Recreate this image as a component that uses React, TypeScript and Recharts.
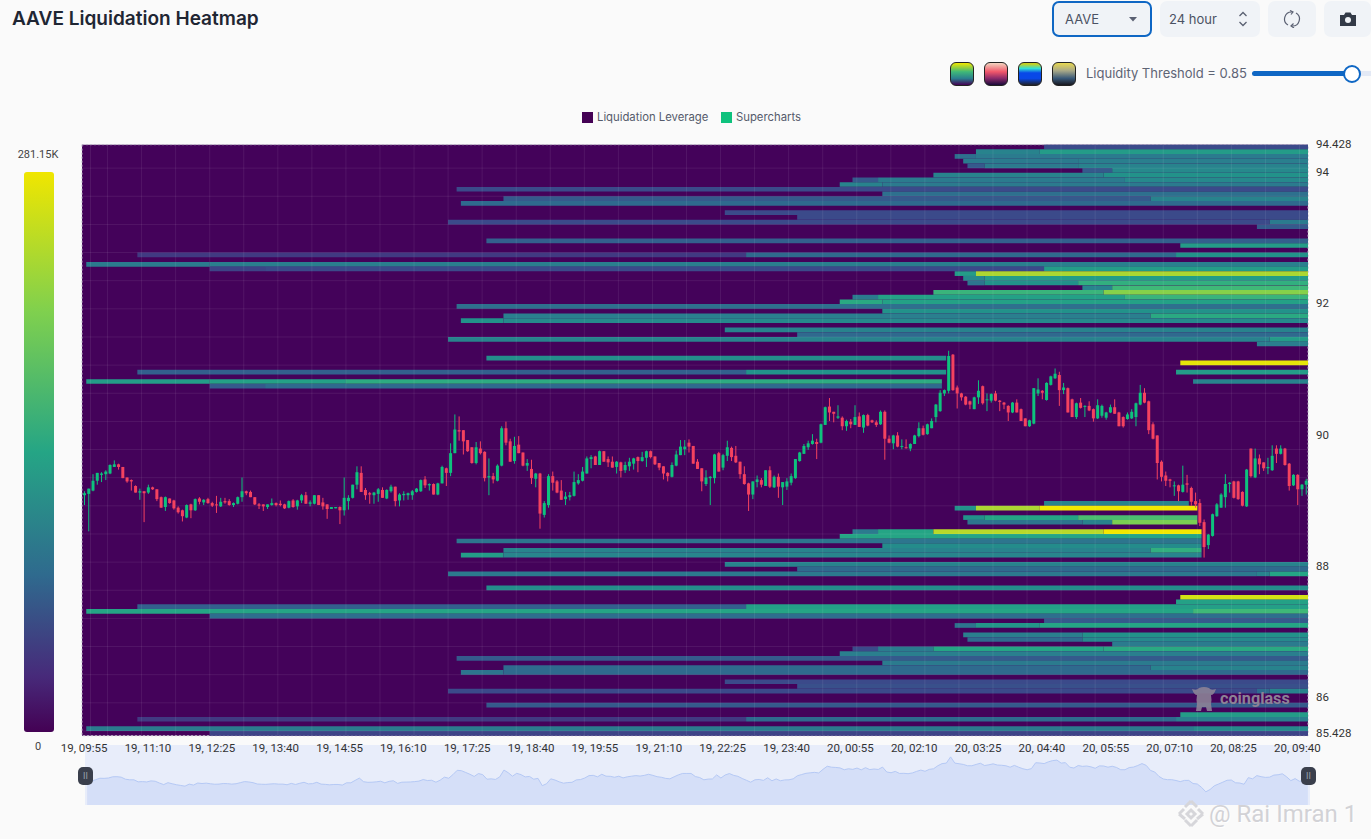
import { ComposedChart, AreaChart, Area, Bar, XAxis, YAxis, CartesianGrid, ReferenceArea } from 'recharts';

const tickLabels = [
  '19, 09:55', '19, 11:10', '19, 12:25', '19, 13:40', '19, 14:55', '19, 16:10', '19, 17:25', '19, 18:40', '19, 19:55', '19, 21:10',
  '19, 22:25', '19, 23:40', '20, 00:55', '20, 02:10', '20, 03:25', '20, 04:40', '20, 05:55', '20, 07:10', '20, 08:25', '20, 09:40',
];
const priceTicks = [94.428, 94, 92, 90, 88, 86, 85.428];

// open, high, low, close - 5 minute candles
const ohlc = [
  [89.09,89.15,88.94,89.12],[89.11,89.19,88.54,89.19],[89.16,89.41,89.15,89.31],[89.31,89.43,89.25,89.43],[89.40,89.44,89.29,89.42],[89.41,89.47,89.32,89.45],
  [89.42,89.56,89.41,89.55],[89.52,89.62,89.52,89.56],[89.56,89.57,89.48,89.52],[89.52,89.52,89.35,89.35],[89.36,89.36,89.28,89.30],[89.32,89.33,89.16,89.30],
  [89.23,89.24,89.13,89.13],[89.13,89.19,89.02,89.15],[89.15,89.15,88.68,89.12],[89.13,89.25,89.11,89.21],[89.21,89.22,89.17,89.18],[89.18,89.18,89.00,89.03],
  [89.06,89.07,88.90,88.90],[88.91,89.07,88.85,89.06],[89.04,89.04,88.96,88.97],[89.01,89.02,88.87,88.89],[88.90,88.92,88.81,88.83],[88.86,88.87,88.69,88.77],
  [88.75,88.95,88.74,88.94],[88.95,88.96,88.74,88.86],[88.86,89.04,88.85,89.03],[89.04,89.06,88.95,88.99],[88.98,89.03,88.94,89.02],[89.03,89.05,88.96,88.97],
  [88.97,88.99,88.91,88.93],[88.95,89.08,88.82,88.94],[88.92,89.05,88.91,88.99],[89.00,89.05,88.96,88.98],[89.00,89.03,88.93,88.94],[88.94,88.98,88.91,88.97],
  [88.96,89.07,88.95,89.06],[89.06,89.36,88.99,89.15],[89.15,89.16,89.09,89.12],[89.14,89.16,89.06,89.06],[89.06,89.06,88.94,88.95],[88.95,88.97,88.88,88.93],
  [88.95,88.95,88.85,88.92],[88.91,88.95,88.88,88.95],[88.94,89.04,88.93,88.97],[88.97,88.98,88.92,88.94],[88.96,89.01,88.92,88.94],[88.95,88.96,88.88,88.89],
  [88.90,89.01,88.89,89.00],[89.01,89.03,88.90,88.91],[88.92,89.02,88.87,89.01],[89.01,89.11,88.97,89.09],[89.09,89.14,88.96,88.96],[88.96,89.01,88.92,88.98],
  [88.96,89.09,88.95,89.09],[89.09,89.09,88.94,88.94],[88.98,89.05,88.87,88.92],[88.95,88.95,88.73,88.88],[88.88,88.91,88.88,88.91],[88.89,88.91,88.89,88.91],
  [88.91,88.92,88.65,88.86],[88.86,89.36,88.78,89.05],[89.00,89.09,88.87,89.05],[89.05,89.25,89.04,89.25],[89.25,89.53,89.18,89.44],[89.43,89.53,89.14,89.14],
  [89.17,89.20,89.02,89.09],[89.12,89.14,88.96,89.10],[89.09,89.14,88.96,89.13],[89.11,89.20,88.99,89.18],[89.17,89.21,89.05,89.05],[89.04,89.18,89.03,89.17],
  [89.15,89.25,89.13,89.22],[89.22,89.22,88.92,89.00],[89.01,89.12,88.92,89.10],[89.09,89.15,89.01,89.11],[89.09,89.13,89.02,89.12],[89.09,89.17,89.02,89.15],
  [89.14,89.20,89.13,89.19],[89.15,89.33,89.14,89.32],[89.33,89.38,89.20,89.24],[89.24,89.27,89.16,89.26],[89.26,89.27,89.10,89.10],[89.10,89.28,89.09,89.27],
  [89.27,89.54,89.27,89.52],[89.50,89.51,89.23,89.43],[89.43,89.88,89.38,89.73],[89.73,90.32,89.73,90.09],[90.08,90.29,89.92,90.06],[90.08,90.08,89.71,89.91],
  [89.93,89.93,89.75,89.76],[89.82,89.82,89.57,89.58],[89.58,89.90,89.56,89.82],[89.80,89.91,89.71,89.73],[89.75,89.76,89.30,89.35],[89.36,89.65,89.09,89.38],
  [89.38,89.43,89.27,89.33],[89.31,89.56,89.30,89.54],[89.54,90.14,89.53,90.11],[90.11,90.21,89.85,89.89],[89.91,89.95,89.60,89.60],[89.61,89.98,89.57,89.84],
  [89.86,89.99,89.73,89.73],[89.74,89.74,89.53,89.54],[89.54,89.64,89.46,89.58],[89.49,89.63,89.26,89.35],[89.34,89.43,89.21,89.42],[89.42,89.43,88.58,88.81],
  [88.79,89.00,88.75,88.97],[88.94,89.41,88.90,89.38],[89.38,89.45,89.16,89.28],[89.30,89.32,89.12,89.13],[89.16,89.32,89.02,89.02],[89.03,89.14,88.94,89.07],
  [89.06,89.14,89.01,89.09],[89.08,89.45,89.07,89.29],[89.27,89.41,89.25,89.32],[89.31,89.52,89.30,89.45],[89.42,89.68,89.42,89.65],[89.64,89.70,89.50,89.67],
  [89.68,89.69,89.55,89.55],[89.55,89.77,89.55,89.76],[89.76,89.76,89.60,89.60],[89.64,89.68,89.52,89.59],[89.60,89.68,89.51,89.51],[89.52,89.61,89.42,89.60],
  [89.59,89.60,89.36,89.46],[89.47,89.60,89.43,89.55],[89.53,89.66,89.46,89.60],[89.57,89.66,89.48,89.65],[89.67,89.68,89.44,89.61],[89.61,89.75,89.60,89.67],
  [89.66,89.77,89.52,89.76],[89.76,89.77,89.65,89.67],[89.68,89.68,89.55,89.56],[89.58,89.58,89.47,89.51],[89.53,89.53,89.33,89.42],[89.43,89.44,89.30,89.38],
  [89.37,89.59,89.36,89.55],[89.54,89.77,89.53,89.71],[89.70,89.93,89.70,89.83],[89.79,89.93,89.70,89.83],[89.89,89.94,89.74,89.83],[89.84,89.84,89.57,89.57],
  [89.60,89.64,89.49,89.49],[89.50,89.50,89.15,89.30],[89.26,89.47,89.23,89.36],[89.35,89.38,88.94,89.37],[89.35,89.72,89.27,89.71],[89.73,89.75,89.45,89.45],
  [89.51,89.72,89.47,89.70],[89.69,89.92,89.61,89.82],[89.81,89.83,89.61,89.67],[89.69,89.84,89.58,89.59],[89.60,89.60,89.34,89.41],[89.41,89.53,89.25,89.26],
  [89.27,89.28,88.85,89.10],[89.10,89.30,89.03,89.30],[89.29,89.39,89.21,89.33],[89.32,89.35,89.21,89.25],[89.23,89.47,89.23,89.47],[89.47,89.53,89.20,89.22],
  [89.21,89.39,89.20,89.37],[89.37,89.42,89.05,89.22],[89.21,89.29,88.94,89.29],[89.22,89.35,89.17,89.30],[89.28,89.42,89.24,89.38],[89.35,89.64,89.34,89.64],
  [89.61,89.75,89.60,89.74],[89.72,89.87,89.72,89.84],[89.82,89.92,89.78,89.88],[89.87,90.02,89.86,89.92],[89.90,89.95,89.64,89.87],[89.89,90.18,89.88,90.17],
  [90.16,90.44,90.16,90.43],[90.44,90.57,90.22,90.35],[90.36,90.36,90.20,90.33],[90.27,90.46,90.25,90.29],[90.27,90.29,90.08,90.14],[90.14,90.24,90.07,90.22],
  [90.21,90.25,90.11,90.17],[90.16,90.46,90.16,90.28],[90.29,90.35,90.13,90.13],[90.12,90.32,90.04,90.31],[90.31,90.33,90.14,90.15],[90.23,90.24,90.19,90.20],
  [90.20,90.23,90.13,90.16],[90.17,90.38,90.16,90.36],[90.36,90.38,89.63,89.95],[89.95,90.00,89.88,89.89],[89.88,90.01,89.79,90.00],[90.00,90.05,89.82,89.83],
  [89.83,89.94,89.79,89.84],[89.82,89.94,89.80,89.81],[89.80,89.88,89.76,89.87],[89.87,90.01,89.87,90.00],[89.99,90.20,89.97,90.11],[90.11,90.15,90.00,90.01],
  [90.02,90.18,90.01,90.17],[90.11,90.26,90.11,90.22],[90.28,90.48,90.20,90.47],[90.37,90.69,90.36,90.65],[90.64,90.70,90.60,90.69],[90.68,91.29,90.64,91.21],
  [91.23,91.24,90.68,90.69],[90.73,90.76,90.41,90.64],[90.64,90.65,90.53,90.58],[90.59,90.60,90.46,90.47],[90.52,90.53,90.40,90.47],[90.40,90.59,90.40,90.58],
  [90.58,90.84,90.48,90.68],[90.75,90.76,90.47,90.49],[90.54,90.64,90.37,90.55],[90.53,90.64,90.50,90.63],[90.64,90.68,90.52,90.53],[90.53,90.54,90.37,90.51],
  [90.50,90.51,90.40,90.47],[90.45,90.46,90.22,90.35],[90.35,90.51,90.34,90.50],[90.50,90.55,90.35,90.35],[90.40,90.41,90.22,90.22],[90.26,90.26,90.14,90.14],
  [90.14,90.24,90.13,90.23],[90.18,90.72,90.17,90.72],[90.64,90.87,90.60,90.70],[90.68,90.69,90.55,90.65],[90.54,90.81,90.53,90.80],[90.77,90.91,90.76,90.90],
  [90.87,91.02,90.86,90.94],[90.92,90.97,90.45,90.69],[90.69,90.80,90.63,90.73],[90.72,90.73,90.35,90.35],[90.55,90.56,90.28,90.28],[90.28,90.50,90.25,90.49],
  [90.50,90.57,90.41,90.42],[90.44,90.46,90.28,90.45],[90.45,90.52,90.37,90.38],[90.40,90.41,90.21,90.26],[90.26,90.55,90.25,90.46],[90.30,90.47,90.27,90.45],
  [90.27,90.36,90.24,90.35],[90.35,90.47,90.34,90.43],[90.43,90.55,90.33,90.33],[90.35,90.36,90.14,90.14],[90.28,90.29,90.12,90.14],[90.25,90.35,90.24,90.32],
  [90.26,90.40,90.25,90.36],[90.28,90.50,90.14,90.49],[90.47,90.77,90.46,90.65],[90.65,90.72,90.49,90.50],[90.52,90.53,90.02,90.08],[90.17,90.20,89.94,89.95],
  [90.00,90.00,89.33,89.58],[89.60,89.62,89.30,89.37],[89.39,89.45,89.23,89.31],[89.33,89.34,89.21,89.31],[89.23,89.30,89.08,89.24],[89.24,89.25,89.00,89.15],
  [89.14,89.54,89.13,89.25],[89.27,89.40,89.13,89.25],[89.20,89.22,88.93,88.99],[89.00,89.13,88.90,88.95],[88.97,89.03,88.62,88.67],[88.68,88.72,88.14,88.30],
  [88.33,88.50,88.27,88.49],[88.47,88.81,88.46,88.80],[88.77,88.97,88.76,88.95],[88.90,89.12,88.90,89.10],[89.06,89.41,88.90,89.26],[89.26,89.29,89.13,89.28],
  [89.30,89.31,89.04,89.05],[89.30,89.31,89.02,89.03],[89.14,89.15,88.92,88.93],[88.92,89.49,88.91,89.48],[89.80,89.80,89.36,89.38],[89.36,89.80,89.35,89.65],
  [89.65,89.71,89.41,89.56],[89.59,89.59,89.46,89.50],[89.50,89.66,89.41,89.52],[89.47,89.85,89.46,89.69],[89.80,89.85,89.58,89.72],[89.72,89.85,89.71,89.80],
  [89.80,89.81,89.54,89.55],[89.57,89.58,89.16,89.23],[89.24,89.41,89.23,89.40],[89.40,89.41,88.94,89.18],[89.18,89.26,89.08,89.25],[89.25,89.34,89.10,89.31],
];

// price at top of row, last column, then [first column, intensity 0-1] runs
const heatRows: any[] = [
  [94.428,288,[226,.2]],
  [94.357,288,[210,.42],[225,.55]],
  [94.285,288,[205,.33],[210,.38]],
  [94.214,288,[207,.38],[234,.4]],
  [94.142,288,[208,.25],[212,.38],[234,.42]],
  [94.071,288,[235,.25],[242,.45]],
  [94.0,288,[200,.42],[240,.5]],
  [93.928,288,[181,.25],[187,.38],[245,.45]],
  [93.857,288,[178,.42],[188,.38]],
  [93.785,288,[88,.2]],
  [93.714,288,[188,.33]],
  [93.642,288,[99,.25],[251,.42]],
  [93.571,288,[89,.3]],
  [93.428,288,[151,.2]],
  [93.357,288,[168,.2]],
  [93.285,288,[86,.2],[279,.38]],
  [93.214,288,[276,.25]],
  [93.0,288,[95,.27]],
  [92.928,288,[258,.55]],
  [92.785,288,[13,.15],[156,.3],[257,.5]],
  [92.642,288,[1,.38],[30,.4]],
  [92.571,288,[30,.18],[43,.2],[226,.55]],
  [92.5,288,[205,.55],[210,.88]],
  [92.428,288,[207,.45],[212,.55]],
  [92.357,288,[208,.35],[212,.5],[234,.65]],
  [92.285,288,[235,.42],[242,.7]],
  [92.214,288,[200,.68],[240,.82]],
  [92.142,288,[181,.38],[187,.58],[245,.68]],
  [92.071,288,[178,.62],[188,.58]],
  [92.0,288,[88,.33]],
  [91.928,288,[188,.5]],
  [91.857,288,[99,.4],[251,.62]],
  [91.785,288,[89,.5],[99,.45]],
  [91.642,288,[151,.42]],
  [91.571,288,[168,.3]],
  [91.5,288,[86,.42],[279,.55]],
  [91.428,288,[276,.4]],
  [91.214,203,[95,.48]],
  [91.142,288,[258,.98]],
  [91.0,203,[13,.27],[156,.5]],
  [91.0,288,[257,.55]],
  [90.857,202,[1,.55],[30,.58],[62,.63]],
  [90.857,288,[261,.42]],
  [90.785,202,[30,.25],[43,.3]],
  [89.0,260,[226,.42]],
  [88.928,262,[205,.5],[210,.88],[225,1]],
  [88.785,262,[207,.5],[212,.6],[234,.72]],
  [88.714,262,[208,.35],[235,.42],[242,.8]],
  [88.571,263,[181,.38],[187,.6],[200,.9],[240,1]],
  [88.5,263,[178,.6]],
  [88.428,263,[88,.35]],
  [88.357,263,[188,.47]],
  [88.285,263,[99,.42],[251,.65]],
  [88.214,263,[89,.55],[99,.43]],
  [88.071,288,[151,.42]],
  [88.0,288,[168,.3]],
  [87.928,288,[86,.37],[276,.42],[279,.6]],
  [87.714,288,[95,.48]],
  [87.571,288,[258,.95]],
  [87.5,288,[257,.58]],
  [87.428,288,[13,.27],[156,.57]],
  [87.357,288,[1,.6],[261,.7]],
  [87.285,288,[30,.32]],
  [87.214,288,[226,.25]],
  [87.142,288,[205,.35],[210,.52],[225,.6]],
  [87.0,288,[207,.4],[235,.5]],
  [86.928,288,[208,.3],[235,.45]],
  [86.857,288,[242,.38]],
  [86.785,288,[181,.2],[187,.38],[200,.6],[240,.62]],
  [86.714,288,[178,.4]],
  [86.642,288,[88,.25]],
  [86.571,288,[188,.38]],
  [86.5,288,[99,.3],[251,.42]],
  [86.428,288,[89,.35],[99,.3]],
  [86.285,288,[151,.2]],
  [86.214,288,[168,.22]],
  [86.142,288,[86,.2],[276,.3],[279,.42]],
  [85.928,288,[95,.25]],
  [85.785,288,[258,.55]],
  [85.714,288,[13,.15],[156,.3],[257,.4]],
  [85.571,288,[1,.38],[261,.45]],
  [85.5,288,[30,.18]],
];

const ROW_STEP = 1 / 14;
const viridis = ['#440154', '#472a7a', '#3b4a8a', '#2f6a8e', '#2a7f8e', '#22928a', '#25a585', '#3fb878', '#7acf52', '#b8d92a', '#f2e800'];

// colour of an intensity, blended between the viridis stops above
function heatColor(v: number) {
  const pos = v * 10;
  const lo = Math.floor(pos);
  const hi = Math.min(lo + 1, 10);
  const t = pos - lo;
  const channel = (c: string, at: number) => parseInt(c.slice(at, at + 2), 16);
  const mix = (at: number) => Math.round(channel(viridis[lo], at) * (1 - t) + channel(viridis[hi], at) * t);
  return `rgb(${mix(1)},${mix(3)},${mix(5)})`;
}

const candles = ohlc.map(([open, high, low, close], i) => ({ x: i + 0.5, open, high, low, close }));

const bands = heatRows.flatMap(([price, end, ...runs]) =>
  runs.map(([from, v]: number[], i: number) => ({
    price,
    from,
    to: i + 1 < runs.length ? runs[i + 1][0] : end,
    v,
  }))
);

const xTicks = tickLabels.map((_, i) => i * 15 + 0.5);
const gridX = Array.from({ length: 72 }, (_, i) => 2 + i * 4);
const gridY = Array.from({ length: 41 }, (_, i) => 94.428 - (5 + i * 3) * ROW_STEP);

const GREEN = '#0ec27d';
const RED = '#f4425f';
const plotMargin = { top: 144.67, right: 63, bottom: 44.33, left: 82 };

function Candle(props: any) {
  const { x, y, width, height, payload } = props;
  const { open, high, low, close } = payload;
  const cx = x + width / 2;
  const k = high > low ? height / (high - low) : 0;
  const top = y + (high - Math.max(open, close)) * k;
  const h = Math.max(Math.abs(open - close) * k, 1);
  const color = close >= open ? GREEN : RED;
  return (
    <g>
      <rect x={cx - 0.5} y={y} width={1} height={Math.max(height, 1)} fill={color} />
      <rect x={cx - 1.5} y={top} width={3} height={h} fill={color} />
    </g>
  );
}

function PriceTick({ x, y, payload }: any) {
  const nudge = payload.value === 85.428 ? -2.5 : -0.8;
  return (
    <text x={x} y={y + nudge} dy="0.355em" fill="#333" fontSize={11.5} fontFamily={axisFont}>
      {payload.value}
    </text>
  );
}

const font = 'Inter, sans-serif';
const axisFont = 'Roboto, sans-serif';
const panel = '#f0f3f7';

function box(left: number, top: number, width: number, height: number, extra: any = {}) {
  return { position: 'absolute', left, top, width, height, boxSizing: 'border-box', ...extra } as any;
}

function Swatch({ left, bg }: { left: number; bg: string }) {
  return <div style={box(left, 62, 24, 24, { borderRadius: 6, border: '1px solid #222', background: bg })} />;
}

export default function App() {
  return (
    <div style={box(0, 0, 1371, 839, { position: 'fixed', background: '#fafafa', overflow: 'hidden', fontFamily: font })}>
      <div style={box(12, 5, 400, 28, { fontSize: 19.05, fontWeight: 600, color: '#1f2633', lineHeight: '28px' })}>AAVE Liquidation Heatmap</div>

      <div style={box(1052, 1, 100, 36, { background: panel, border: '2px solid #0f67c4', borderRadius: 7, fontSize: 13, color: '#4b5263', lineHeight: '32px', paddingLeft: 11 })}>AAVE</div>
      <svg style={box(1129, 17, 8, 5)}><path d="M0 0 L8 0 L4 4.5 Z" fill="#5a6072" /></svg>
      <div style={box(1160, 1, 100, 36, { background: panel, borderRadius: 7, fontSize: 13, color: '#4b5263', lineHeight: '36px', paddingLeft: 9 })}>24 hour</div>
      <svg style={box(1238, 11, 10, 16)} fill="none" stroke="#5a6072" strokeWidth="1.3"><path d="M1.5 5 L5 1.5 L8.5 5 M1.5 11 L5 14.5 L8.5 11" /></svg>
      <div style={box(1268, 1, 48, 36, { background: panel, borderRadius: 7 })} />
      <svg style={box(1283, 10, 18, 18)} fill="none" stroke="#5a6072" strokeWidth="1.2">
        <path d="M5 15 A7 7 0 0 1 9 2 M13 3 A7 7 0 0 1 9 16" />
        <path d="M7 0.5 L10 2 L8 4.5 M11 18 L8 16 L10.5 13.5" />
      </svg>
      <div style={box(1324, 1, 47, 36, { background: panel, borderRadius: 7 })} />
      <svg style={box(1340, 12, 16, 14)}>
        <path d="M0 3 H4 L5.5 0.5 H10.5 L12 3 H16 V14 H0 Z" fill="#333a47" />
        <circle cx="8" cy="8" r="3" fill="#f0f3f7" />
      </svg>

      <Swatch left={950} bg="linear-gradient(#f2e800, #3fb878 40%, #2a7f8e 70%, #440154)" />
      <Swatch left={984} bg="linear-gradient(#f3d5c0, #f0566a 40%, #8a2a6a 70%, #1a0a3a)" />
      <Swatch left={1018} bg="linear-gradient(#c8d020 5%, #30e0d8 25%, #0848e8 45%, #0848e8 70%, #202028)" />
      <Swatch left={1052} bg="linear-gradient(#e8d850, #a8a888 35%, #385878 70%, #181820)" />
      <div style={box(1086, 63, 170, 20, { fontSize: 13, color: '#5e6475', lineHeight: '20px', whiteSpace: 'nowrap' })}>Liquidity Threshold = 0.85</div>
      <div style={box(1352, 71, 19, 5, { background: '#e3e9f5' })} />
      <div style={box(1252, 71, 95, 5, { background: '#0f67c4', borderRadius: 3 })} />
      <div style={box(1343, 65, 18, 18, { background: '#fff', border: '2px solid #0f67c4', borderRadius: 9 })} />

      <div style={box(582, 112, 11, 11, { background: '#440154' })} />
      <div style={box(597, 108, 120, 18, { fontSize: 11.3, color: '#555b6b', lineHeight: '18px', whiteSpace: 'nowrap' })}>Liquidation Leverage</div>
      <div style={box(721, 112, 11, 11, { background: GREEN })} />
      <div style={box(736, 108, 80, 18, { fontSize: 11.3, color: '#555b6b', lineHeight: '18px', whiteSpace: 'nowrap' })}>Supercharts</div>

      <div style={box(8, 147, 60, 16, { fontSize: 11, fontFamily: axisFont, color: '#444', textAlign: 'center', lineHeight: '16px' })}>281.15K</div>
      <div style={box(24, 172, 30, 560, { borderRadius: 3, background: 'linear-gradient(#f0e600, #7fd04e 25%, #25a585 50%, #2f6a8e 72%, #472a7a 90%, #440154)' })} />
      <div style={box(8, 739, 60, 16, { fontSize: 11, fontFamily: axisFont, color: '#444', textAlign: 'center', lineHeight: '16px' })}>0</div>

      <div style={box(85, 745, 1225, 60, { background: '#e8edfa' })}>
        <AreaChart width={1225} height={60} data={candles} margin={{ top: 0, right: 0, bottom: 0, left: 0 }}>
          <XAxis dataKey="x" type="number" domain={[0, 288]} hide />
          <YAxis domain={[87.2, 92.2]} hide allowDataOverflow />
          <Area type="linear" dataKey="close" stroke="#b5c9f5" strokeWidth={1} fill="#d5dff8" fillOpacity={1} isAnimationActive={false} dot={false} />
        </AreaChart>
      </div>

      <div style={box(0, 0, 1371, 780)}>
        <ComposedChart width={1371} height={780} data={candles} margin={{ ...plotMargin, right: 0, bottom: 14 }}>
          <XAxis
            dataKey="x"
            type="number"
            domain={[0, 288]}
            ticks={xTicks}
            interval={0}
            height={30.33}
            tickFormatter={(v: number) => tickLabels[Math.round((v - 0.5) / 15)]}
            tick={{ fill: '#333', fontSize: 11.5, fontFamily: axisFont }}
            tickLine={false}
            axisLine={false}
            tickMargin={2}
          />
          <YAxis
            orientation="right"
            domain={[85.428, 94.428]}
            ticks={priceTicks}
            interval={0}
            width={63}
            allowDataOverflow
            tick={<PriceTick />}
            tickLine={false}
            axisLine={false}
            tickMargin={2}
          />
          <ReferenceArea x1={0} x2={288} y1={85.428} y2={94.428} fill="#44025a" fillOpacity={1} stroke="#b8b0c4" strokeDasharray="2 2" ifOverflow="visible" />
          {bands.map((b, i) => (
            <ReferenceArea
              key={i}
              x1={b.from}
              x2={b.to}
              y1={b.price}
              y2={b.price - ROW_STEP}
              fill={heatColor(b.v)}
              fillOpacity={1}
              stroke="none"
              ifOverflow="visible"
            />
          ))}
        </ComposedChart>
      </div>

      {/* grid and candles sit in a second chart so they stay above the heat bands */}
      <div style={box(0, 0, 1371, 780)}>
        <ComposedChart width={1371} height={780} data={candles} margin={plotMargin} barSize={3}>
          <XAxis dataKey="x" type="number" domain={[0, 288]} hide />
          <YAxis domain={[85.428, 94.428]} hide allowDataOverflow />
          <CartesianGrid stroke="rgba(255,255,255,0.08)" verticalValues={gridX} horizontalValues={gridY} />
          <Bar dataKey={(d: any) => [d.low, d.high]} shape={<Candle />} isAnimationActive={false} />
        </ComposedChart>
      </div>

      <div style={box(78, 767, 15, 18, { background: '#3a3f4c', borderRadius: 5, color: '#9aa0ac', fontSize: 9, textAlign: 'center', lineHeight: '17px' })}>II</div>
      <div style={box(1301, 767, 15, 18, { background: '#3a3f4c', borderRadius: 5, color: '#9aa0ac', fontSize: 9, textAlign: 'center', lineHeight: '17px' })}>II</div>

      <svg style={box(1192, 686, 24, 26)}>
        <path d="M0 3 Q5 5 7 2 Q12 0 17 2 Q19 5 24 3 Q22 9 19 9 Q20 14 19 18 L20 25 H15 L14 21 H10 L9 25 H4 L5 18 Q4 14 5 9 Q2 9 0 3 Z" fill="#8c8296" opacity="0.9" />
      </svg>
      <div style={box(1220, 689, 80, 20, { fontSize: 16.2, fontWeight: 700, fontFamily: axisFont, color: '#8c8296', lineHeight: '20px' })}>coinglass</div>

      <svg style={box(1175, 799, 32, 30)} fill="none" stroke="#d6d6da" strokeWidth="3">
        <path d="M16 2 L22 8 M16 2 L10 8 M4 15 L9 10 M28 15 L23 10 M4 15 L10 20 M28 15 L22 20 M16 27 L10 21 M16 27 L22 21 M16 11 L20 15 L16 19 L12 15 Z" />
      </svg>
      <div style={box(1209, 799, 160, 30, { fontSize: 24, fontFamily: 'Roboto, sans-serif', color: '#d2d2d6', lineHeight: '30px', whiteSpace: 'nowrap', textShadow: '1px 1px 0 #fff' })}>@ Rai Imran 1</div>
    </div>
  );
}
